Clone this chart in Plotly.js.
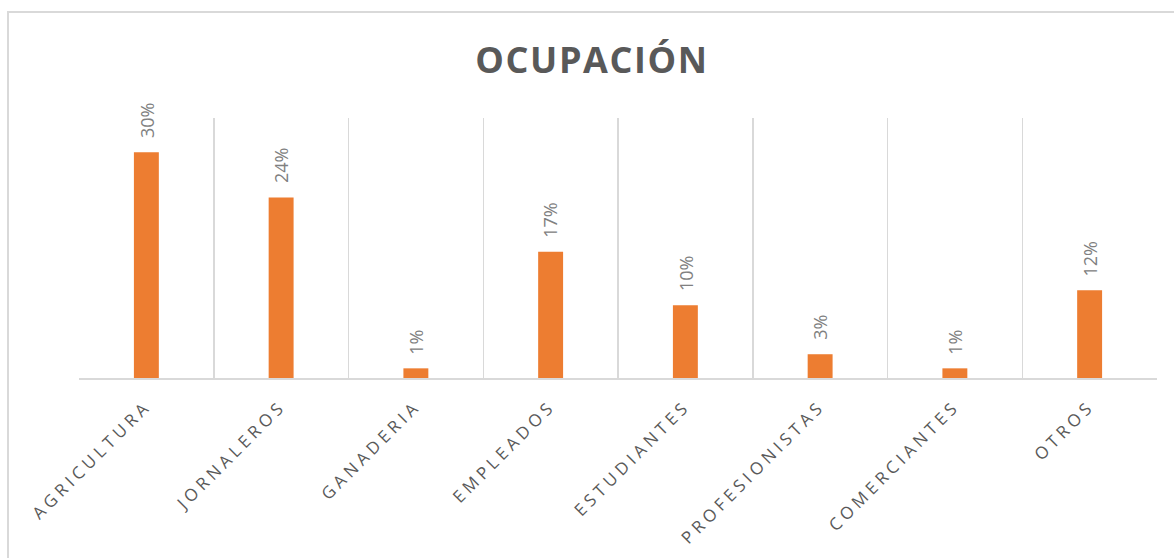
<!DOCTYPE html>
<html>
<head>
<meta charset="utf-8">
<script src="https://cdn.plot.ly/plotly-3.0.1.min.js"></script>
<style>
  html, body { margin: 0; padding: 0; overflow: hidden; background: #fff; }
  #chart { width: 1174px; height: 558px; position: absolute; left: 0; top: 0; }
  #frame { position: absolute; left: 7px; top: 11px; width: 1300px; height: 700px;
           border: 2px solid #d9d9d9; pointer-events: none; box-sizing: border-box; }
  .xtick text { letter-spacing: 4.2px; }
  .gtitle { letter-spacing: 1.6px; }
</style>
</head>
<body>
<div id="chart"></div>
<div id="frame"></div>
<script>
const categories = ["AGRICULTURA", "JORNALEROS", "GANADERIA", "EMPLEADOS",
                    "ESTUDIANTES", "PROFESIONISTAS", "COMERCIANTES", "OTROS"];
const shares = [0.304, 0.243, 0.013, 0.170, 0.098, 0.032, 0.013, 0.118];
const chartTitle = "OCUPACIÓN";

const trace = {
  type: "bar",
  x: categories,
  y: shares,
  marker: { color: "#ED7D31", line: { width: 0 } },
  hoverinfo: "none"
};

const annotations = categories.map((c, i) => ({
  x: c, y: shares[i], xref: "x", yref: "y",
  text: Math.round(shares[i] * 100) + "%",
  showarrow: false, textangle: -90,
  xanchor: "center", yanchor: "bottom", yshift: 12,
  font: { family: "Open Sans", size: 18, color: "#808080" }
}));

const layout = {
  width: 1174, height: 558,
  margin: { l: 79, r: 17, t: 118, b: 180 },
  paper_bgcolor: "rgba(0,0,0,0)",
  plot_bgcolor: "rgba(0,0,0,0)",
  showlegend: false,
  bargap: 0.815,
  title: {
    text: chartTitle,
    x: 592 / 1174, xanchor: "center", xref: "container",
    y: 1 - 73 / 558, yanchor: "bottom", yref: "container",
    font: { family: "Open Sans", size: 36, color: "#595959", weight: 700 }
  },
  xaxis: {
    type: "category",
    tickson: "boundaries",
    showgrid: true, gridcolor: "#d9d9d9", gridwidth: 1.5,
    showline: true, linecolor: "#d9d9d9", linewidth: 1.5,
    ticks: "", tickangle: -45,
    ticklabelstandoff: 10,
    tickfont: { family: "Open Sans", size: 17, color: "#595959" },
    fixedrange: true
  },
  yaxis: {
    range: [0, 0.35],
    visible: false,
    showgrid: false, zeroline: false,
    fixedrange: true
  },
  annotations: annotations
};

Plotly.newPlot("chart", [trace], layout, { displayModeBar: false, staticPlot: true });
</script>
</body>
</html>
